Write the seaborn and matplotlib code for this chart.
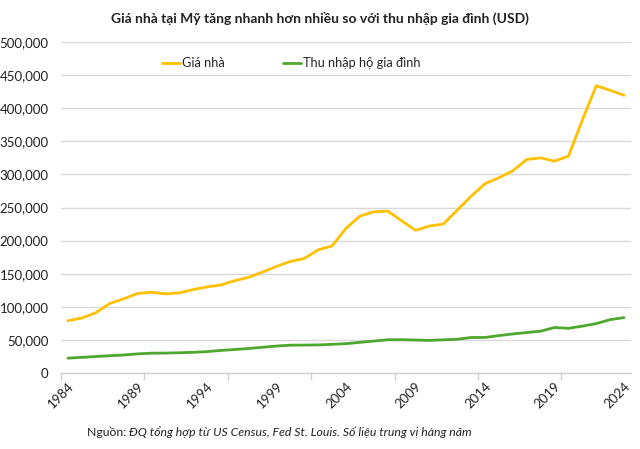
import matplotlib
matplotlib.use("Agg")
import matplotlib.pyplot as plt
import seaborn as sns
import pandas as pd
from matplotlib.ticker import FuncFormatter, FixedLocator

years = list(range(1984, 2025))

house_price = [79000, 83000, 91000, 105000, 112000, 120000, 122000, 119500, 121000, 126000,
               130000, 133000, 139500, 144500, 152500, 161000, 168500, 173000, 186000, 192000,
               218500, 237000, 243500, 244500, 230000, 215500, 222000, 225000, 246000, 267000,
               286000, 295000, 305500, 322500, 325000, 320000, 327500, 382000, 434000, 427000,
               419500]

household_income = [22400, 23600, 24900, 26100, 27200, 28900, 29900, 30100, 30600, 31200,
                    32300, 34100, 35500, 37000, 38900, 40700, 42000, 42200, 42400, 43300,
                    44300, 46300, 48200, 50200, 50300, 49800, 49300, 50100, 51000, 53600,
                    53700, 56500, 59000, 61100, 63200, 68700, 67500, 70800, 74600, 80600,
                    83700]

series_names = ['Giá nhà', 'Thu nhập hộ gia đình']
label_years = list(range(1984, 2025, 5))

df = pd.DataFrame({
    'year': years * 2,
    'value': house_price + household_income,
    'series': [series_names[0]] * len(years) + [series_names[1]] * len(years),
})

sns.set_theme(style='white')
plt.rcParams['font.family'] = ['Lato', 'DejaVu Sans']

fig = plt.figure(figsize=(6.4, 4.49), dpi=100)
ax = fig.add_axes([61 / 640, 1 - 373 / 449, 570 / 640, 331 / 449])

sns.lineplot(data=df, x='year', y='value', hue='series',
             palette=['#FFC000', '#4EA72E'], linewidth=2.0, ax=ax)

ax.set_xlim(1983.5, 2024.5)
ax.set_ylim(0, 500000)
ax.set_yticks(range(0, 500001, 50000))
ax.yaxis.set_major_formatter(FuncFormatter(lambda v, p: f'{int(v):,}'))
ax.grid(axis='y', color='#d9d9d9', linewidth=1.0)
ax.set_axisbelow(True)

ax.set_xticks(label_years)
ax.set_xticklabels([str(y) for y in label_years], rotation=45, ha='right',
                   va='top', rotation_mode='anchor')
ax.xaxis.set_minor_locator(FixedLocator([1983.5 + 6 * k for k in range(7)]))
ax.tick_params(axis='x', which='major', length=0, pad=5, labelsize=9.5, labelcolor='#222222')
ax.tick_params(axis='x', which='minor', bottom=True, length=5, width=1, color='#d0d0d0')
ax.tick_params(axis='y', length=0, pad=9, labelsize=9.5, labelcolor='#222222')

for side in ['top', 'right', 'left']:
    ax.spines[side].set_visible(False)
ax.spines['bottom'].set_color('#d0d0d0')
ax.spines['bottom'].set_linewidth(1.0)

ax.set_xlabel('')
ax.set_ylabel('')

handles, labels = ax.get_legend_handles_labels()
ax.legend(handles, labels, loc='center left', bbox_to_anchor=(162 / 640, 1 - 63 / 449),
          bbox_transform=fig.transFigure, ncol=2, frameon=False, fontsize=9.2,
          handlelength=1.4, handletextpad=0.15, columnspacing=4.6,
          borderpad=0, borderaxespad=0)

fig.text(0.5, 1 - 18 / 449,
         'Giá nhà tại Mỹ tăng nhanh hơn nhiều so với thu nhập gia đình (USD)',
         ha='center', va='center', fontsize=10, fontweight='bold', color='#222222')

src = fig.text(87 / 640, 1 - 432 / 449, 'Nguồn: ', ha='left', va='center',
               fontsize=8.8, color='#222222')
fig.canvas.draw()
bb = src.get_window_extent(renderer=fig.canvas.get_renderer())
fig.text(bb.x1 / 640, 1 - 432 / 449,
         'ĐQ tổng hợp từ US Census, Fed St. Louis. Số liệu trung vị hàng năm',
         ha='left', va='center', fontsize=8.8, style='italic', color='#222222')

fig.savefig('out.png', dpi=100)
